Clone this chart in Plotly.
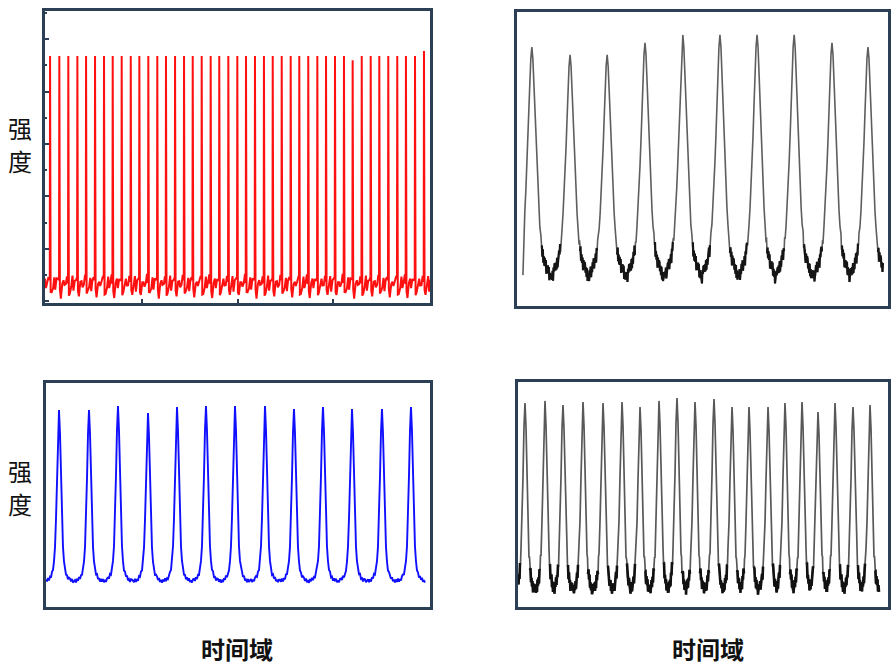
import plotly.graph_objects as go

# ================= DATA =================
# ---- Panel A: top-left, red pulse train (y axis in a.u., ticks every 1) ----
red_times = [0.037, 0.134, 0.228, 0.323, 0.414, 0.508, 0.602, 0.693, 0.787, 0.882,
             0.972, 1.066, 1.160, 1.251, 1.346, 1.440, 1.531, 1.625, 1.719, 1.809,
             1.904, 1.998, 2.089, 2.183, 2.277, 2.369, 2.463, 2.557, 2.647, 2.741,
             2.836, 2.927, 3.021, 3.115, 3.206, 3.301, 3.395, 3.485, 3.579, 3.673,
             3.764, 3.859, 3.953]
red_heights = [9.36, 9.36, 9.36, 9.36, 9.36, 9.36, 9.36, 9.36, 9.36, 9.36,
               9.36, 9.36, 9.36, 9.36, 9.36, 9.36, 9.36, 9.36, 9.36, 9.36,
               9.36, 9.36, 9.36, 9.36, 9.36, 9.36, 9.36, 9.36, 9.36, 9.36,
               9.36, 9.36, 9.36, 9.36, 9.20, 9.36, 9.36, 9.36, 9.36, 9.36,
               9.36, 9.36, 9.55]
# sawtooth baseline between spikes: time offset after a spike -> intensity
red_gap_dt = [0.006, 0.016, 0.031, 0.044, 0.054, 0.068, 0.080, 0.088]
red_gap_y = [0.35, 0.24, 0.62, 0.86, 0.50, 0.75, 0.92, 0.80]
red_pre_y = 0.89          # level just before each spike
red_jitter = [0.0, 0.10, -0.14, 0.05, -0.06, 0.12, -0.10, 0.03, -0.12, 0.08, 0.0]

# ---- Panel B: top-right, gray pulses ----
gb_times = [0.40, 1.43, 2.43, 3.45, 4.47, 5.47, 6.47, 7.47, 8.49, 9.46]
gb_heights = [0.881, 0.854, 0.854, 0.895, 0.922, 0.922, 0.922, 0.922, 0.895, 0.881]
gb_base = 0.105
gb_off = [0.0, 0.027, 0.054, 0.081, 0.108, 0.135, 0.162, 0.189, 0.216,
          0.243, 0.256, 0.270, 0.283, 0.296, 0.310, 0.323, 0.337, 0.350, 0.364,
          0.377, 0.391, 0.404, 0.418, 0.431, 0.445, 0.458, 0.472, 0.485]
gb_rel = [1.0, 0.95, 0.84, 0.71, 0.58, 0.47, 0.37, 0.28, 0.21,
          0.16, 0.14, 0.12, 0.107, 0.095, 0.085, 0.075, 0.067, 0.06, 0.052,
          0.045, 0.04, 0.035, 0.03, 0.025, 0.018, 0.012, 0.006, 0.0]
gb_ripple = [0.012, -0.014, 0.008, -0.020, 0.014, -0.024, 0.006, -0.020, 0.012,
             -0.010, 0.016, -0.026, 0.004, -0.016, 0.014, -0.008, 0.018, -0.022,
             0.007, -0.015, 0.010, -0.028, 0.012, -0.006, 0.015]
gb_lead = [0.16, 0.105]     # trace start (time, intensity)
gb_span = [0.16, 9.865]

# ---- Panel C: bottom-left, blue pulses ----
bl_times = [0.44, 1.456, 2.437, 3.453, 4.435, 5.416, 6.398, 7.414, 8.395,
            9.377, 10.359, 11.374, 12.356]
bl_heights = [0.879, 0.879, 0.897, 0.866, 0.893, 0.897, 0.897, 0.897, 0.884,
              0.893, 0.884, 0.884, 0.893]
bl_base = 0.116
bl_off = [0.0, 0.034, 0.068, 0.102, 0.135, 0.169, 0.203, 0.237, 0.271,
          0.305, 0.339, 0.372, 0.406, 0.440, 0.474]
bl_rel = [1.0, 0.86, 0.60, 0.36, 0.20, 0.115, 0.07, 0.045, 0.03,
          0.02, 0.012, 0.007, 0.004, 0.002, 0.0]
bl_ripple = [0.006, -0.005, 0.008, -0.007, 0.004, -0.008, 0.007, -0.004,
             0.009, -0.006, 0.003, -0.007, 0.006]
bl_span = [0.0, 12.93]

# ---- Panel D: bottom-right, gray pulses ----
gd_times = [0.378, 1.459, 2.432, 3.514, 4.595, 5.622, 6.595, 7.622, 8.595, 9.568,
            10.595, 11.568, 12.486, 13.514, 14.432, 15.351, 16.216, 17.135,
            18.108, 19.027]
gd_heights = [0.907, 0.916, 0.898, 0.911, 0.907, 0.911, 0.889, 0.916, 0.929, 0.911,
              0.924, 0.889, 0.889, 0.889, 0.907, 0.911, 0.867, 0.907, 0.889, 0.898]
gd_base = 0.085
gd_off = [0.0, 0.054, 0.108, 0.162, 0.216, 0.243, 0.270, 0.297, 0.324, 0.351,
          0.378, 0.405, 0.432, 0.459, 0.486]
gd_rel = [1.0, 0.87, 0.60, 0.36, 0.20, 0.15, 0.11, 0.08, 0.06, 0.045,
          0.03, 0.02, 0.01, 0.005, 0.0]
gd_ripple = [0.018, -0.022, 0.012, -0.026, 0.020, -0.015, 0.010, -0.030,
             0.016, -0.012, 0.022, -0.024, 0.008, -0.018, 0.014, -0.028, 0.006]
gd_span = [0.0, 20.0]


# ================= helpers =================
def pulse_train(times, heights, base, off, rel, ripple, ripple_from, span,
                lead=None, dark_from=None):
    if dark_from is None:
        dark_from = ripple_from
    offs = [-o for o in reversed(off[1:])] + off
    rels = list(reversed(rel[1:])) + rel
    xs, ys = [], []
    vx, vy = [], []        # valley (noisy, darker) segments
    if lead is not None:
        xs.append(lead[0])
        ys.append(lead[1])
    n = len(times)
    r = 0
    in_valley = False
    for k, (tc, h) in enumerate(zip(times, heights)):
        lo = (times[k - 1] + tc) / 2 if k > 0 else span[0]
        hi = (tc + times[k + 1]) / 2 if k < n - 1 else span[1]
        for o, a in zip(offs, rels):
            t = tc + o
            if t < lo or t > hi:
                continue
            y = base + (h - base) * a
            if abs(o) >= ripple_from:
                y += ripple[r % len(ripple)]
                r += 1
            if abs(o) >= dark_from:
                vx.append(t)
                vy.append(y)
                in_valley = True
            elif in_valley:
                vx.append(None)
                vy.append(None)
                in_valley = False
            xs.append(t)
            ys.append(y)
    return xs, ys, vx, vy


def red_train():
    xs, ys = [], []
    period = red_times[1] - red_times[0]
    for dt, v in zip(red_gap_dt, red_gap_y):
        xs.append(red_times[0] - period + dt)
        ys.append(v)
    for k, (tc, h) in enumerate(zip(red_times, red_heights)):
        j = red_jitter[k % len(red_jitter)]
        xs += [tc - 0.003, tc]
        ys += [red_pre_y + j * 0.5, h]
        for i, (dt, v) in enumerate(zip(red_gap_dt, red_gap_y)):
            xs.append(tc + dt)
            ys.append(v + red_jitter[(k + i) % len(red_jitter)])
    return xs, ys


# ================= figure =================
W, H = 896, 670
FRAME = "#2b3f55"

boxes = {  # left, top, right, bottom in pixels of the page
    "A": (45, 11, 430, 303),
    "B": (517, 12, 888, 306),
    "C": (46, 383, 430, 607),
    "D": (518, 382, 888, 607),
}


def dom(b):
    l, t, r, bt = b
    return [l / W, r / W], [1 - bt / H, 1 - t / H]


fig = go.Figure()

xa, ya = red_train()
fig.add_trace(go.Scatter(x=xa, y=ya, mode="lines", xaxis="x", yaxis="y",
                         line=dict(color="#ff1010", width=2.0)))

xb, yb, vbx, vby = pulse_train(gb_times, gb_heights, gb_base, gb_off, gb_rel,
                               gb_ripple, 0.24, gb_span, lead=gb_lead, dark_from=0.27)
fig.add_trace(go.Scatter(x=xb, y=yb, mode="lines", xaxis="x2", yaxis="y2",
                         line=dict(color="#5e5e5e", width=1.6)))
fig.add_trace(go.Scatter(x=vbx, y=vby, mode="lines", xaxis="x2", yaxis="y2",
                         line=dict(color="#151515", width=2.2)))

xc, yc, _, _ = pulse_train(bl_times, bl_heights, bl_base, bl_off, bl_rel,
                           bl_ripple, 0.2, bl_span)
fig.add_trace(go.Scatter(x=xc, y=yc, mode="lines", xaxis="x3", yaxis="y3",
                         line=dict(color="#1010ff", width=1.9)))

xd, yd, vdx, vdy = pulse_train(gd_times, gd_heights, gd_base, gd_off, gd_rel,
                               gd_ripple, 0.2, gd_span, dark_from=0.27)
fig.add_trace(go.Scatter(x=xd, y=yd, mode="lines", xaxis="x4", yaxis="y4",
                         line=dict(color="#585858", width=1.7)))
fig.add_trace(go.Scatter(x=vdx, y=vdy, mode="lines", xaxis="x4", yaxis="y4",
                         line=dict(color="#111111", width=2.6)))

common = dict(showline=True, mirror=True, linecolor=FRAME, linewidth=2.5,
              showgrid=False, zeroline=False, showticklabels=False, ticks="")
common_t = {k: v for k, v in common.items() if k != "ticks"}

dA, eA = dom(boxes["A"])
dB, eB = dom(boxes["B"])
dC, eC = dom(boxes["C"])
dD, eD = dom(boxes["D"])

fig.update_layout(
    width=W, height=H, margin=dict(l=0, r=0, t=0, b=0),
    paper_bgcolor="white", plot_bgcolor="white", showlegend=False,
    xaxis=dict(domain=dA, anchor="y", range=[-0.016, 4.016],
               ticks="inside", ticklen=4, tickwidth=2, tickcolor=FRAME,
               tickvals=[1, 2, 3], **common_t),
    yaxis=dict(domain=eA, anchor="x", range=[-0.07, 11.08],
               ticks="inside", ticklen=4, tickwidth=2, tickcolor=FRAME,
               tick0=0, dtick=2,
               minor=dict(ticks="inside", ticklen=2, tickwidth=1.5,
                          tickcolor=FRAME, dtick=1, tick0=0),
               **common_t),
    xaxis2=dict(domain=dB, anchor="y2", range=[0, 10], **common),
    yaxis2=dict(domain=eB, anchor="x2", range=[0, 1], **common),
    xaxis3=dict(domain=dC, anchor="y3", range=[0, 13], **common),
    yaxis3=dict(domain=eC, anchor="x3", range=[0, 1], **common),
    xaxis4=dict(domain=dD, anchor="y4", range=[0, 20], **common),
    yaxis4=dict(domain=eD, anchor="x4", range=[0, 1], **common),
)

label_font = dict(family="Noto Sans CJK SC", size=24, color="#111111")
bold_font = dict(family="Noto Sans CJK SC", size=24, color="#111111", weight="bold")

for ch, yp in [("强", 127), ("度", 160), ("强", 470), ("度", 503)]:
    fig.add_annotation(text=ch, x=20 / W, y=1 - yp / H, xref="paper", yref="paper",
                       showarrow=False, font=label_font,
                       xanchor="center", yanchor="middle")
for xp in [237, 708]:
    fig.add_annotation(text="时间域", x=xp / W, y=1 - 648 / H, xref="paper", yref="paper",
                       showarrow=False, font=bold_font,
                       xanchor="center", yanchor="middle")

fig.write_html("out.html")
